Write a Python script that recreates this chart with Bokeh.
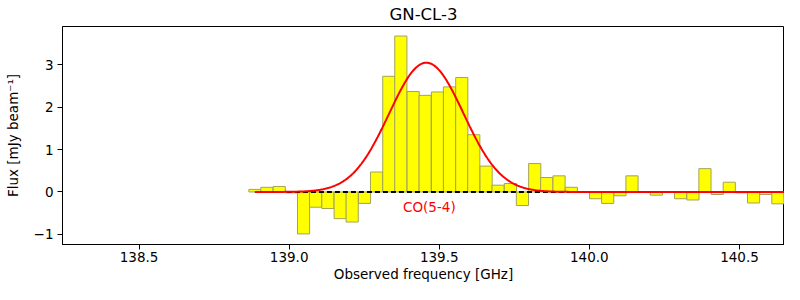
import numpy as np
from bokeh.plotting import figure
from bokeh.models import Range1d, FixedTicker, Label, PrintfTickFormatter
from bokeh.embed import file_html
from bokeh.resources import INLINE

# Channel frequencies (GHz) and fluxes (mJy/beam)
freq = [138.886, 138.926, 138.967, 139.007, 139.048, 139.088, 139.129, 139.170,
        139.210, 139.251, 139.291, 139.332, 139.372, 139.413, 139.453, 139.494,
        139.534, 139.575, 139.615, 139.656, 139.696, 139.737, 139.777, 139.818,
        139.858, 139.899, 139.940, 139.980, 140.021, 140.061, 140.102, 140.142,
        140.183, 140.223, 140.264, 140.304, 140.345, 140.385, 140.426, 140.466,
        140.507, 140.547, 140.588, 140.628, 140.669]
flux = [0.06, 0.11, 0.13, -0.02, -0.99, -0.36, -0.39, -0.63,
        -0.71, -0.27, 0.47, 2.73, 3.68, 2.37, 2.28, 2.36,
        2.48, 2.70, 1.35, 0.61, 0.16, 0.20, -0.32, 0.67,
        0.34, 0.38, 0.11, 0.01, -0.16, -0.27, -0.09, 0.38,
        0.00, -0.075, 0.00, -0.16, -0.19, 0.55, -0.06, 0.23,
        -0.02, -0.26, -0.06, -0.28, -0.12]
chan_width = 0.0405

# Gaussian fit parameters
fit_amp = 3.05
fit_center = 139.457
fit_sigma = 0.124

line_label = "CO(5-4)"
x_ticks = [138.5, 139.0, 139.5, 140.0, 140.5]
y_ticks = [-1, 0, 1, 2, 3]

FONT = "DejaVu Sans"

p = figure(width=784, height=284, output_backend="svg", toolbar_location=None,
           title="GN-CL-3",
           x_range=Range1d(138.245, 140.65), y_range=Range1d(-1.24, 3.905),
           min_border_left=62, min_border_right=0, min_border_top=0, min_border_bottom=0)

p.title.align = "center"
p.title.text_font = FONT
p.title.text_font_size = "16.5px"
p.title.text_font_style = "normal"
p.title.text_color = "black"
p.title.standoff = 5

p.grid.visible = False
p.outline_line_color = "black"
p.outline_line_width = 1
p.outline_line_alpha = 1

for ax in (p.xaxis[0], p.yaxis[0]):
    ax.axis_line_color = "black"
    ax.major_tick_line_color = "black"
    ax.major_tick_out = 5
    ax.major_tick_in = 0
    ax.minor_tick_out = 0
    ax.minor_tick_in = 0
    ax.major_label_text_font = FONT
    ax.major_label_text_font_size = "13.5px"
    ax.major_label_text_color = "black"
    ax.major_label_text_line_height = 1.0
    ax.axis_label_text_font = FONT
    ax.axis_label_text_font_size = "13.5px"
    ax.axis_label_text_font_style = "normal"
    ax.axis_label_text_color = "black"
    ax.axis_label_text_line_height = 1.0

p.xaxis.ticker = FixedTicker(ticks=x_ticks)
p.xaxis.formatter = PrintfTickFormatter(format="%.1f")
p.yaxis.ticker = FixedTicker(ticks=y_ticks)
p.yaxis.major_label_overrides = {-1: "\u22121"}
p.xaxis.axis_label = "Observed frequency [GHz]"
p.yaxis.axis_label = "Flux [mJy beam\u207b\u00b9]"
p.xaxis.major_label_standoff = 2
p.xaxis.axis_label_standoff = 1
p.yaxis.major_label_standoff = 4
p.yaxis.axis_label_standoff = 10

p.vbar(x=freq, top=flux, bottom=0, width=chan_width,
       fill_color="#ffff00", line_color="#a3a35a", line_width=1)

p.line([freq[0], freq[-1]], [0, 0], line_color="black", line_width=2, line_dash="5 3")

xf = np.linspace(freq[0], 140.8, 600)
yf = fit_amp * np.exp(-0.5 * ((xf - fit_center) / fit_sigma) ** 2)
p.line(xf, yf, line_color="red", line_width=2)

p.add_layout(Label(x=139.467, y=-0.35, text=line_label, text_color="red",
                   text_font=FONT, text_font_size="13.5px",
                   text_align="center", text_baseline="middle"))

open("out.html", "w").write(file_html(p, INLINE))
